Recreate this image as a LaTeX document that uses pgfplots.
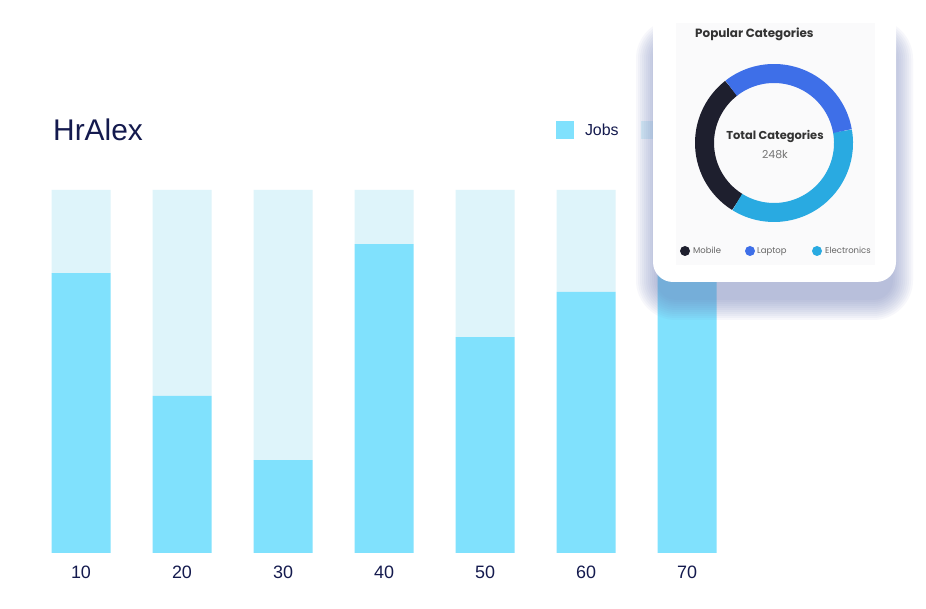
\documentclass[border=0pt]{standalone}
\usepackage{pgfplots}
\pgfplotsset{compat=1.18}
\usepackage{fontspec}
\setmainfont{Liberation Sans}
\newfontfamily\poppins{Poppins}
\definecolor{jobs}{RGB}{128,225,253}
\definecolor{other}{RGB}{222,244,250}
\definecolor{navy}{RGB}{20,26,78}
\definecolor{mobilec}{RGB}{30,31,46}
\definecolor{laptopc}{RGB}{62,111,232}
\definecolor{electc}{RGB}{41,170,225}
\definecolor{shadowc}{RGB}{110,125,185}
\definecolor{panel}{RGB}{250,250,251}
% donut shares (percent)
\def\mobileval{30.6}
\def\laptopval{32.8}
\def\electval{36.6}
\begin{document}
\begin{tikzpicture}[x=1bp,y=1bp]
\useasboundingbox (0,0) rectangle (926,609);
\fill[white] (0,0) rectangle (926,609);
\node[anchor=base west, inner sep=0pt, text=navy, font=\fontsize{30}{30}\selectfont] at (53,468) {HrAlex};
\begin{axis}[
  at={(30.5bp,56bp)}, anchor=south west, scale only axis,
  width=707bp, height=363bp,
  xmin=5, xmax=75, ymin=0, ymax=100,
  ybar stacked, bar width=59bp,
  axis line style={draw=none}, ytick=\empty,
  xtick={10,20,30,40,50,60,70}, major tick length=0pt,
  /pgf/number format/assume math mode=true,
  xticklabel style={font=\fontsize{18}{18}\selectfont, text=navy, anchor=base, yshift=-26bp},
  legend columns=2,
  legend image code/.code={\fill[#1] (0bp,-9bp) rectangle (18bp,9bp);},
  legend style={at={(0.743,1.165)}, anchor=west, draw=none, fill=none, inner sep=0pt,
    font=\fontsize{16}{16}\selectfont, text=navy,
    nodes={inner sep=0pt},
    /tikz/every odd column/.append style={column sep=11bp},
    /tikz/every even column/.append style={column sep=22bp}},
]
\addplot[fill=jobs, draw=none] coordinates {(10,77.1) (20,43.3) (30,25.6) (40,85.1) (50,59.5) (60,71.9) (70,79.0)};
\addlegendentry{Jobs}
\addplot[fill=other, draw=none] coordinates {(10,22.9) (20,56.7) (30,74.4) (40,14.9) (50,40.5) (60,28.1) (70,21.0)};
\addlegendentry{\mbox{}}
\end{axis}
\begin{scope}
\clip (0,0) rectangle (926,609);
% card shadow
\foreach \s in {0,2,...,20}{
  \fill[shadowc, opacity=0.055, rounded corners={20+\s}] (653-\s+3,309-\s) rectangle (896+\s-3,570+\s);
}
% card
\fill[white, rounded corners=20] (653,327) rectangle (896,625);
\end{scope}
\fill[panel] (676,344) rectangle (875,586);
\node[anchor=base west, inner sep=0pt, text=black!80, font=\poppins\bfseries\fontsize{12}{12}\selectfont] at (695,571) {Popular Categories};
% donut
\pgfmathsetmacro{\aA}{128}
\pgfmathsetmacro{\aB}{\aA-3.6*\laptopval}
\pgfmathsetmacro{\aC}{\aB-3.6*\electval}
\pgfmathsetmacro{\aD}{\aC-3.6*\mobileval}
\coordinate (C) at (774,466);
\draw[mobilec, line width=19bp] (C) ++(\aC:69.5) arc[start angle=\aC, end angle=\aD, radius=69.5];
\draw[electc, line width=19bp] (C) ++(\aB:69.5) arc[start angle=\aB, end angle=\aC, radius=69.5];
\draw[laptopc, line width=19bp] (C) ++(\aA:69.5) arc[start angle=\aA, end angle=\aB, radius=69.5];
\node[anchor=base, inner sep=0pt, text=black!80, font=\poppins\bfseries\fontsize{11.5}{11.5}\selectfont] at (775,469) {Total Categories};
\node[anchor=base, inner sep=0pt, text=black!55, font=\poppins\fontsize{11}{11}\selectfont] at (775,450) {248k};
% donut legend
\fill[mobilec] (685,358) circle (5);
\node[anchor=base west, inner sep=0pt, text=black!60, font=\poppins\fontsize{8.5}{8.5}\selectfont] at (693,355) {Mobile};
\fill[laptopc] (750,358) circle (5);
\node[anchor=base west, inner sep=0pt, text=black!60, font=\poppins\fontsize{8.5}{8.5}\selectfont] at (757,355) {Laptop};
\fill[electc] (817,358) circle (5);
\node[anchor=base west, inner sep=0pt, text=black!60, font=\poppins\fontsize{8.5}{8.5}\selectfont] at (825,355) {Electronics};
\end{tikzpicture}
\end{document}
